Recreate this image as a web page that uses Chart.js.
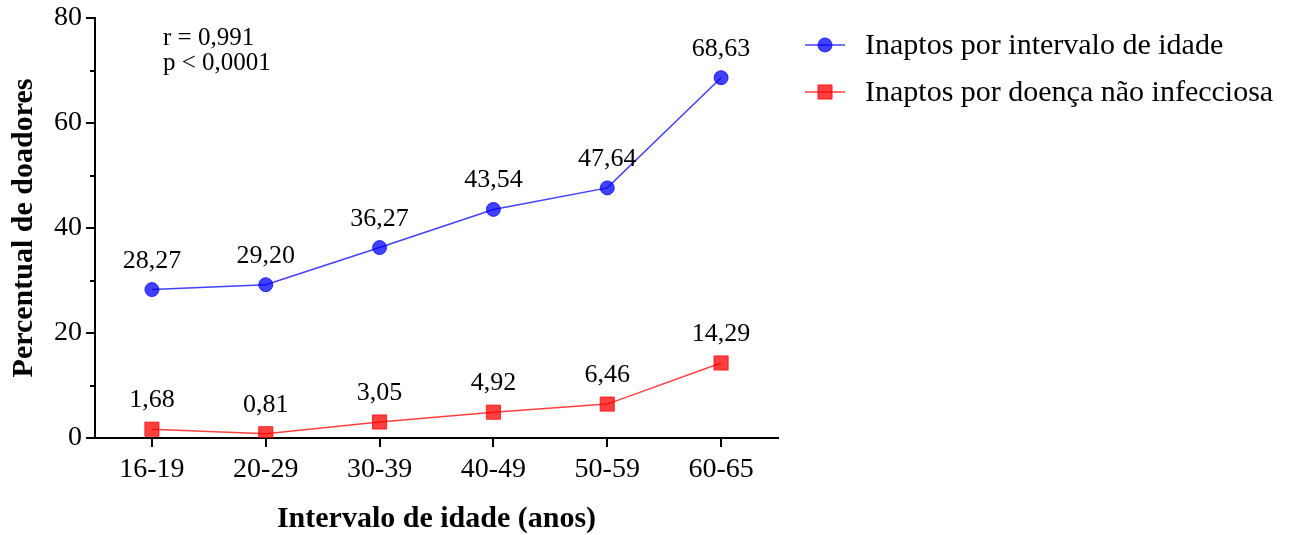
<!DOCTYPE html>
<html>
<head>
<meta charset="utf-8">
<script src="https://cdn.jsdelivr.net/npm/chart.js@4/dist/chart.umd.min.js"></script>
<style>
  html, body { margin: 0; padding: 0; background: #fff; }
  #wrap { width: 1293px; height: 535px; }
</style>
</head>
<body>
<div id="wrap"><canvas id="c" width="1293" height="535"></canvas></div>
<script>
// Faixas etárias e percentuais de doadores inaptos
const faixas = ['16-19', '20-29', '30-39', '40-49', '50-59', '60-65'];
const inaptosIdade = [28.27, 29.20, 36.27, 43.54, 47.64, 68.63];
const inaptosDoenca = [1.68, 0.81, 3.05, 4.92, 6.46, 14.29];
const yMarcas = [0, 20, 40, 60, 80];
const yMarcasMenores = [10, 30, 50, 70];
const estatisticas = ['r = 0,991', 'p < 0,0001'];

const SERIF = '"Liberation Serif", "Times New Roman", Times, serif';
const AZUL = 'rgba(0, 0, 255, 0.75)';
const VERMELHO = 'rgba(255, 0, 0, 0.75)';

const fmt = v => v.toFixed(2).replace('.', ',');

// Rótulos de valor acima de cada ponto
const rotulosValores = {
  id: 'rotulosValores',
  afterDatasetsDraw(chart) {
    const ctx = chart.ctx;
    ctx.save();
    ctx.font = '26px ' + SERIF;
    ctx.fillStyle = '#000';
    ctx.textAlign = 'center';
    ctx.textBaseline = 'alphabetic';
    chart.data.datasets.forEach((ds, i) => {
      chart.getDatasetMeta(i).data.forEach((pt, j) => {
        ctx.fillText(fmt(ds.data[j]), pt.x, pt.y - 22);
      });
    });
    ctx.restore();
  }
};

// Marcas menores do eixo Y
const marcasMenores = {
  id: 'marcasMenores',
  afterDraw(chart) {
    const y = chart.scales.y;
    const ctx = chart.ctx;
    ctx.save();
    ctx.strokeStyle = '#000';
    ctx.lineWidth = 2;
    yMarcasMenores.forEach(v => {
      const py = Math.round(y.getPixelForValue(v));
      ctx.beginPath();
      ctx.moveTo(y.right - 5, py);
      ctx.lineTo(y.right, py);
      ctx.stroke();
    });
    ctx.restore();
  }
};

// Texto de correlação no canto superior esquerdo
const textoEstat = {
  id: 'textoEstat',
  afterDraw(chart) {
    const ctx = chart.ctx;
    const a = chart.chartArea;
    ctx.save();
    ctx.font = '25px ' + SERIF;
    ctx.fillStyle = '#000';
    ctx.textAlign = 'left';
    ctx.textBaseline = 'alphabetic';
    estatisticas.forEach((t, i) => {
      ctx.fillText(t, a.left + 68, a.top + 27 + i * 25);
    });
    ctx.restore();
  }
};

// Legenda com linha e marcador
const legendaLinha = {
  id: 'legendaLinha',
  afterDraw(chart) {
    const ctx = chart.ctx;
    const x0 = 805, x1 = 845, tx = 865;
    const y0 = 45, dy = 47;
    ctx.save();
    chart.data.datasets.forEach((ds, i) => {
      const yy = y0 + i * dy;
      ctx.strokeStyle = ds.borderColor;
      ctx.lineWidth = ds.borderWidth;
      ctx.beginPath();
      ctx.moveTo(x0, yy);
      ctx.lineTo(x1, yy);
      ctx.stroke();
      ctx.fillStyle = ds.pointBackgroundColor;
      ctx.strokeStyle = ds.pointBorderColor;
      ctx.lineWidth = ds.pointBorderWidth;
      Chart.helpers.drawPoint(ctx, {
        pointStyle: ds.pointStyle,
        radius: ds.pointRadius,
        borderWidth: ds.pointBorderWidth
      }, (x0 + x1) / 2, yy);
      ctx.font = '30px ' + SERIF;
      ctx.fillStyle = '#000';
      ctx.textAlign = 'left';
      ctx.textBaseline = 'middle';
      ctx.fillText(ds.label, tx, yy + 1);
    });
    ctx.restore();
  }
};

new Chart(document.getElementById('c'), {
  type: 'line',
  data: {
    labels: faixas,
    datasets: [
      {
        label: 'Inaptos por intervalo de idade',
        data: inaptosIdade,
        borderColor: AZUL,
        borderWidth: 1.5,
        pointStyle: 'circle',
        pointRadius: 7,
        pointBorderWidth: 1,
        pointBackgroundColor: AZUL,
        pointBorderColor: AZUL,
        tension: 0
      },
      {
        label: 'Inaptos por doença não infecciosa',
        data: inaptosDoenca,
        borderColor: VERMELHO,
        borderWidth: 1.5,
        pointStyle: 'rect',
        pointRadius: 10,
        pointBorderWidth: 1,
        pointBackgroundColor: VERMELHO,
        pointBorderColor: VERMELHO,
        tension: 0
      }
    ]
  },
  options: {
    responsive: false,
    animation: false,
    layout: { padding: { top: 18, right: 515, left: 0, bottom: 0 } },
    plugins: {
      legend: { display: false },
      tooltip: { enabled: false }
    },
    scales: {
      x: {
        offset: true,
        grid: { drawOnChartArea: false, drawTicks: true, tickLength: 9, color: '#000', lineWidth: 2, offset: false },
        border: { color: '#000', width: 2 },
        ticks: { font: { family: SERIF, size: 28 }, color: '#000', padding: 6 },
        title: {
          display: true,
          text: 'Intervalo de idade (anos)',
          font: { family: SERIF, size: 30, weight: 'bold' },
          color: '#000',
          padding: { top: 10, bottom: -2 }
        },
        afterFit(s) { s.height = 97; }
      },
      y: {
        min: 0,
        max: 80,
        afterBuildTicks(s) { s.ticks = yMarcas.map(v => ({ value: v })); },
        grid: { drawOnChartArea: false, drawTicks: true, tickLength: 9, color: '#000', lineWidth: 2 },
        border: { color: '#000', width: 2 },
        ticks: { font: { family: SERIF, size: 28, lineHeight: 1 }, color: '#000', padding: 4 },
        title: {
          display: true,
          text: 'Percentual de doadores',
          font: { family: SERIF, size: 30, weight: 'bold' },
          color: '#000',
          padding: { top: 6, bottom: 10 }
        },
        afterFit(s) { s.width = 95; }
      }
    }
  },
  plugins: [rotulosValores, marcasMenores, textoEstat, legendaLinha]
});
</script>
</body>
</html>
